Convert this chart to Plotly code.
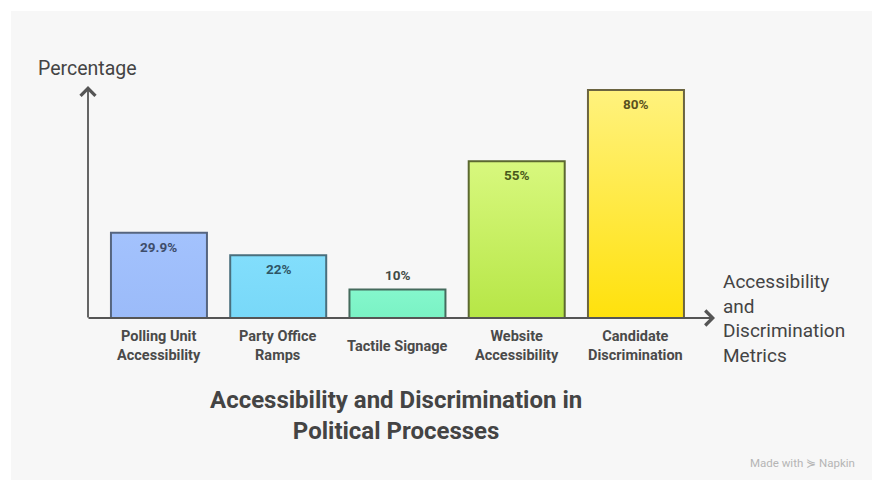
import plotly.graph_objects as go

categories = ["Polling Unit<br>Accessibility", "Party Office<br>Ramps", "Tactile Signage",
              "Website<br>Accessibility", "Candidate<br>Discrimination"]
values = [29.9, 22, 10, 55, 80]
value_labels = ["29.9%", "22%", "10%", "55%", "80%"]
top_colors = ["#a3c2fd", "#82defc", "#84f7cc", "#d8f87e", "#fff27e"]
bottom_colors = ["#9bbbf9", "#78d8f8", "#7af2c4", "#b6e646", "#ffe10c"]
line_colors = ["#56657f", "#4a6f7d", "#456b5d", "#5b6830", "#6b6440"]
text_colors = ["#3e4d6b", "#2f5666", "#404a46", "#4a5a1c", "#5a5220"]
label_pos = ["inside", "inside", "outside", "inside", "inside"]

W, H = 872, 480
L, R, T, B = 88, 159, 88, 162
PW, PH = W - L - R, H - T - B
XR = [-0.595, 4.646]
YR = [0, (H - B - T) / 2.85]
BW = 0.805
FONT = "Roboto, Arial, sans-serif"
AX = "#555555"


def px_x(p):
    return (p - L) / PW


def px_y(p):
    return (H - B - p) / PH


fig = go.Figure()

for i, v in enumerate(values):
    x0, x1 = i - BW / 2, i + BW / 2
    fig.add_trace(go.Scatter(
        x=[x0, x1, x1, x0, x0], y=[0, 0, v, v, 0],
        mode="lines", fill="toself",
        fillgradient=dict(type="vertical",
                          colorscale=[[0, bottom_colors[i]], [1, top_colors[i]]]),
        line=dict(color=line_colors[i], width=2),
        hoverinfo="skip", showlegend=False,
    ))

annotations = []
for i, v in enumerate(values):
    inside = label_pos[i] == "inside"
    annotations.append(dict(
        x=i, y=v, xref="x", yref="y", text=f"<b>{value_labels[i]}</b>",
        showarrow=False, yanchor="top" if inside else "bottom",
        yshift=-4 if inside else 5,
        font=dict(family=FONT, size=13.5, color=text_colors[i]),
    ))
    annotations.append(dict(
        x=i, y=px_y(346), xref="x", yref="paper", text=f"<b>{categories[i]}</b>",
        showarrow=False, yanchor="middle", align="center",
        font=dict(family=FONT, size=14.5, color="#4a4a4a"),
    ))

# axes with arrows
annotations.append(dict(x=px_x(88), y=px_y(86), xref="paper", yref="paper",
                        axref="pixel", ayref="pixel", ax=0, ay=233,
                        showarrow=True, arrowhead=4, arrowsize=1.6, arrowwidth=1.8,
                        arrowcolor=AX, text=""))
annotations.append(dict(x=px_x(715), y=px_y(318), xref="paper", yref="paper",
                        axref="pixel", ayref="pixel", ax=-628, ay=0,
                        showarrow=True, arrowhead=4, arrowsize=1.6, arrowwidth=1.8,
                        arrowcolor=AX, text=""))

annotations.append(dict(x=px_x(36), y=px_y(68), xref="paper", yref="paper",
                        text="Percentage", showarrow=False, xanchor="left", yanchor="middle",
                        font=dict(family=FONT, size=19.5, color="#444444")))
annotations.append(dict(x=px_x(721), y=px_y(318), xref="paper", yref="paper",
                        text="Accessibility<br>and<br>Discrimination<br>Metrics",
                        showarrow=False, xanchor="left", yanchor="middle", align="left",
                        font=dict(family=FONT, size=19, color="#444444")))
annotations.append(dict(x=px_x(396), y=px_y(415), xref="paper", yref="paper",
                        text="<b>Accessibility and Discrimination in<br>Political Processes</b>",
                        showarrow=False, xanchor="center", yanchor="middle", align="center",
                        font=dict(family=FONT, size=24, color="#444444")))
annotations.append(dict(x=px_x(857), y=px_y(463), xref="paper", yref="paper",
                        text="Made with ⋟ Napkin", showarrow=False,
                        xanchor="right", yanchor="middle",
                        font=dict(family=FONT, size=11.5, color="#b5b5b5")))

fig.update_layout(
    width=W, height=H,
    margin=dict(l=L, r=R, t=T, b=B, pad=0),
    paper_bgcolor="#ffffff", plot_bgcolor="#f7f7f7",
    xaxis=dict(range=XR, visible=False, fixedrange=True),
    yaxis=dict(range=YR, visible=False, fixedrange=True),
    annotations=annotations,
    shapes=[dict(type="rect", xref="paper", yref="paper", layer="below",
                 x0=px_x(11), x1=px_x(873), y0=px_y(11), y1=px_y(481),
                 fillcolor="#f7f7f7", line=dict(width=0))],
    showlegend=False,
)

fig.write_html("out.html")
